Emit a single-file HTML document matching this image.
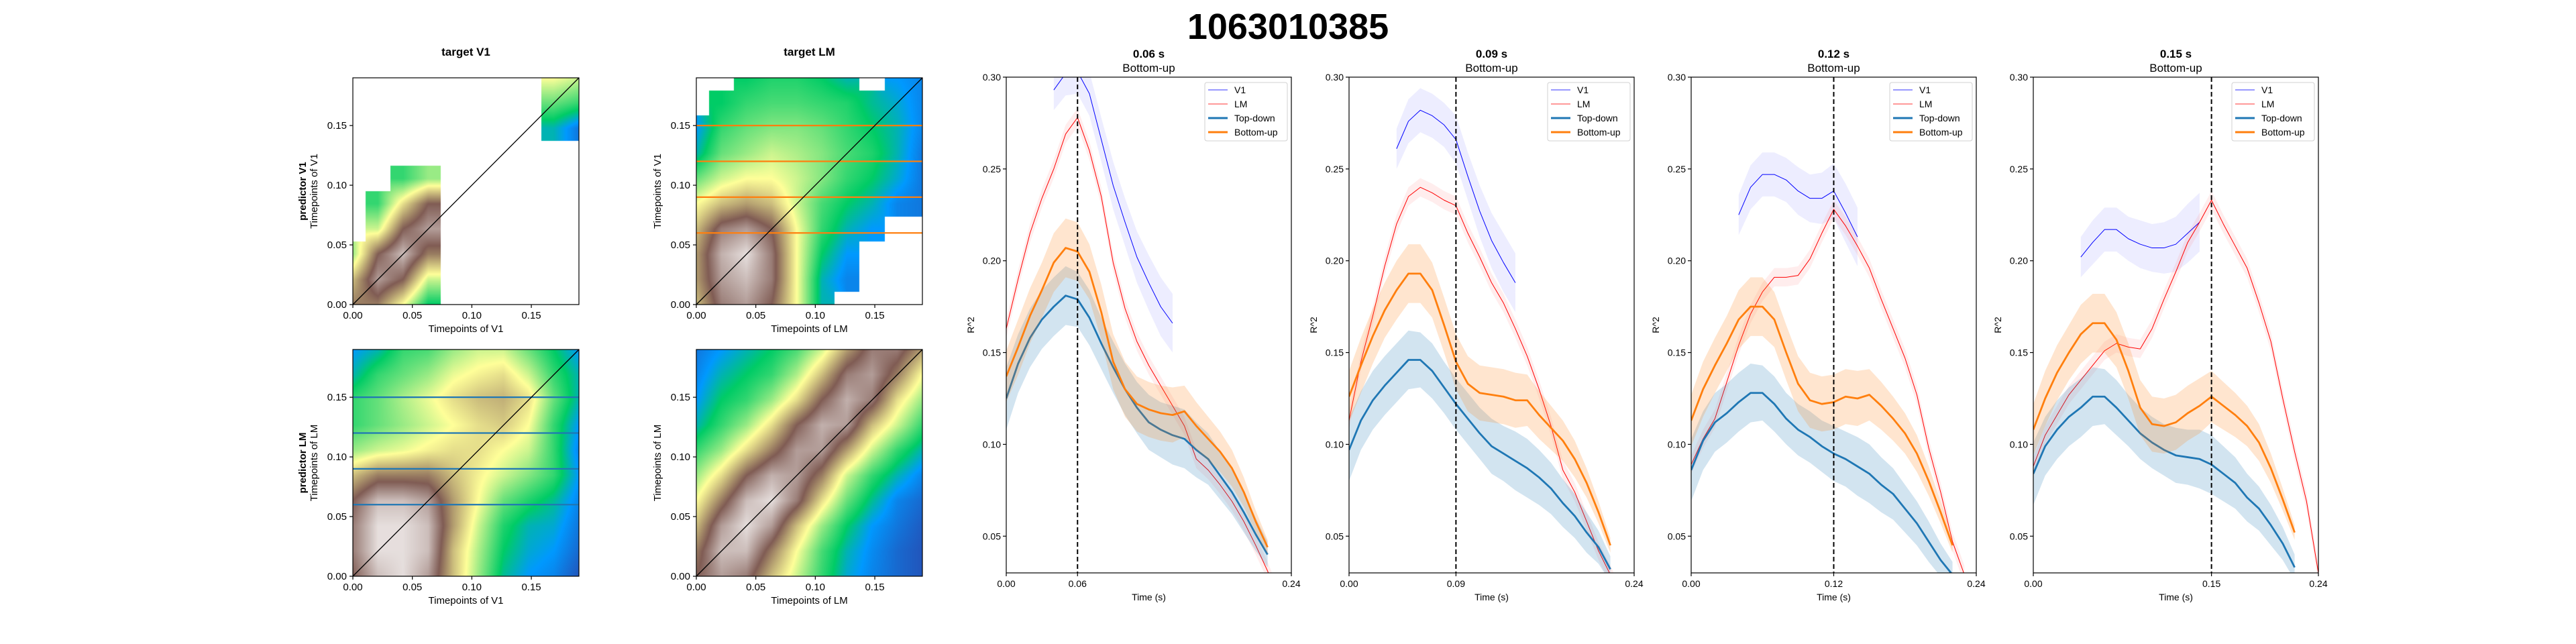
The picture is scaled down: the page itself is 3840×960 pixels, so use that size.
<!DOCTYPE html>
<html><head><meta charset="utf-8"><style>
html,body{margin:0;padding:0;background:#fff;}
#wrap{position:relative;width:3840px;height:960px;overflow:hidden;font-family:"Liberation Sans","DejaVu Sans",sans-serif;}
canvas{position:absolute;}
svg{position:absolute;left:0;top:0;}
</style></head><body>
<div id="wrap">
<canvas id="hm0"></canvas>
<canvas id="hm1"></canvas>
<canvas id="hm2"></canvas>
<canvas id="hm3"></canvas>
<svg id="svg" width="3840" height="960" xmlns="http://www.w3.org/2000/svg"></svg>
</div>
<script>
// ---------------- heatmap data (rows from y=0 upward, cols x=0..0.19; -1 = NaN) ----------------
const hmGridV1V1 = [
 [0.7,0.7,0.5,0.25,-1,-1,-1,-1,-1,-1],
 [0.6,0.85,0.75,0.45,-1,-1,-1,-1,-1,-1],
 [0.4,0.75,0.9,0.7,-1,-1,-1,-1,-1,-1],
 [-1,0.45,0.75,0.85,-1,-1,-1,-1,-1,-1],
 [-1,0.3,0.55,0.75,-1,-1,-1,-1,-1,-1],
 [-1,-1,0.3,0.4,-1,-1,-1,-1,-1,-1],
 [-1,-1,-1,-1,-1,-1,-1,-1,-1,-1],
 [-1,-1,-1,-1,-1,-1,-1,-1,0.2,0.1],
 [-1,-1,-1,-1,-1,-1,-1,-1,0.35,0.3],
 [-1,-1,-1,-1,-1,-1,-1,-1,0.5,0.45]];
const hmGridV1LM = [
 [0.6,0.8,0.85,0.75,0.5,0.2,-1,-1,-1,-1],
 [0.65,0.85,0.9,0.8,0.5,0.2,0.12,-1,-1,-1],
 [0.65,0.88,0.95,0.8,0.5,0.25,0.15,-1,-1,-1],
 [0.6,0.8,0.85,0.75,0.5,0.3,0.2,0.15,-1,-1],
 [0.5,0.6,0.65,0.6,0.45,0.32,0.25,0.2,0.12,0.1],
 [0.35,0.45,0.5,0.5,0.45,0.38,0.3,0.25,0.18,0.1],
 [0.2,0.35,0.4,0.45,0.42,0.38,0.32,0.28,0.2,0.1],
 [0.15,0.3,0.35,0.38,0.38,0.35,0.3,0.25,0.2,0.12],
 [-1,0.25,0.3,0.32,0.32,0.3,0.28,0.22,0.18,0.12],
 [-1,-1,0.25,0.28,0.28,0.25,0.2,-1,0.15,0.12]];
const hmGridLMV1 = [
 [0.75,0.9,0.95,0.85,0.6,0.4,0.22,0.15,0.12,0.05],
 [0.8,0.95,0.95,0.9,0.6,0.42,0.25,0.18,0.15,0.08],
 [0.8,0.95,0.95,0.9,0.65,0.45,0.28,0.2,0.18,0.1],
 [0.75,0.9,0.9,0.85,0.65,0.5,0.35,0.28,0.22,0.12],
 [0.6,0.7,0.7,0.7,0.6,0.52,0.45,0.38,0.3,0.15],
 [0.4,0.45,0.48,0.52,0.55,0.55,0.5,0.45,0.3,0.12],
 [0.3,0.35,0.4,0.45,0.5,0.55,0.58,0.5,0.3,0.15],
 [0.3,0.35,0.42,0.48,0.55,0.6,0.62,0.55,0.35,0.2],
 [0.2,0.3,0.35,0.4,0.48,0.52,0.55,0.45,0.3,0.2],
 [0.15,0.2,0.3,0.32,0.4,0.45,0.45,0.35,0.25,0.15]];
const hmGridLMLM = [
 [0.75,0.85,0.8,0.6,0.45,0.3,0.18,0.12,0.08,0.05],
 [0.7,0.9,0.9,0.7,0.5,0.32,0.2,0.13,0.08,0.05],
 [0.6,0.85,0.95,0.85,0.6,0.4,0.25,0.15,0.1,0.06],
 [0.5,0.7,0.9,0.95,0.8,0.55,0.35,0.22,0.12,0.08],
 [0.4,0.55,0.75,0.88,0.85,0.7,0.45,0.3,0.2,0.12],
 [0.3,0.4,0.55,0.7,0.85,0.85,0.65,0.45,0.3,0.2],
 [0.2,0.3,0.4,0.55,0.75,0.88,0.85,0.6,0.45,0.3],
 [0.15,0.25,0.3,0.4,0.55,0.75,0.88,0.8,0.55,0.4],
 [0.12,0.2,0.25,0.3,0.42,0.6,0.8,0.85,0.7,0.5],
 [0.1,0.15,0.2,0.25,0.32,0.45,0.65,0.8,0.8,0.65]];
const hmTicks = [0.00,0.05,0.10,0.15];
const hmTickLabels = ["0.00","0.05","0.10","0.15"];
const hLines = [0.06,0.09,0.12,0.15];

// ---------------- line chart data ----------------
const eventTimes = [0.06,0.09,0.12,0.15];
const eventLabels = ["0.06","0.09","0.12","0.15"];
const yTicks = [0.05,0.10,0.15,0.20,0.25,0.30];
const yTickLabels = ["0.05","0.10","0.15","0.20","0.25","0.30"];
const tdP1 = [0.125,0.144,0.158,0.168,0.175,0.181,0.179,0.169,0.155,0.142,0.130,0.120,0.112,0.108,0.105,0.103,0.097,0.092,0.083,0.074,0.063,0.051,0.040];
const buP1 = [0.137,0.153,0.170,0.184,0.199,0.207,0.205,0.194,0.172,0.145,0.130,0.122,0.119,0.117,0.116,0.118,0.110,0.103,0.096,0.087,0.074,0.058,0.044];
const lmP1 = [0.163,0.190,0.215,0.234,0.250,0.269,0.278,0.260,0.235,0.199,0.174,0.156,0.143,0.132,0.121,0.110,0.092,0.086,0.078,0.069,0.058,0.045,0.031,0.015];
const v1P1 = [0.293,0.302,0.303,0.291,0.266,0.241,0.221,0.202,0.188,0.175,0.166];
const tdP2 = [0.097,0.113,0.124,0.132,0.139,0.146,0.146,0.140,0.131,0.122,0.114,0.106,0.099,0.095,0.091,0.087,0.082,0.076,0.068,0.061,0.052,0.044,0.032];
const buP2 = [0.126,0.143,0.159,0.173,0.184,0.193,0.193,0.184,0.165,0.145,0.133,0.128,0.127,0.126,0.124,0.124,0.116,0.109,0.102,0.092,0.079,0.063,0.045];
const lmP2 = [0.113,0.145,0.170,0.197,0.220,0.235,0.240,0.237,0.233,0.230,0.215,0.202,0.188,0.177,0.163,0.148,0.130,0.110,0.086,0.074,0.058,0.042,0.029,0.015];
const v1P2 = [0.261,0.276,0.282,0.279,0.274,0.266,0.246,0.227,0.211,0.199,0.188];
const tdP3 = [0.086,0.102,0.112,0.117,0.123,0.128,0.128,0.122,0.114,0.108,0.104,0.099,0.095,0.092,0.088,0.084,0.078,0.073,0.065,0.057,0.047,0.037,0.029];
const buP3 = [0.113,0.130,0.143,0.155,0.168,0.175,0.175,0.168,0.150,0.133,0.124,0.122,0.123,0.126,0.125,0.127,0.121,0.114,0.106,0.095,0.080,0.063,0.045];
const lmP3 = [0.089,0.103,0.114,0.134,0.154,0.171,0.183,0.191,0.191,0.192,0.201,0.215,0.228,0.219,0.208,0.196,0.179,0.163,0.147,0.127,0.098,0.074,0.047,0.029];
const v1P3 = [0.225,0.240,0.247,0.247,0.244,0.238,0.234,0.234,0.238,0.226,0.213];
const tdP4 = [0.084,0.099,0.108,0.115,0.120,0.126,0.126,0.120,0.113,0.106,0.101,0.097,0.094,0.093,0.092,0.089,0.084,0.079,0.071,0.065,0.056,0.046,0.033];
const buP4 = [0.108,0.125,0.139,0.150,0.160,0.166,0.166,0.157,0.140,0.120,0.111,0.110,0.112,0.117,0.121,0.126,0.121,0.116,0.110,0.101,0.087,0.070,0.052];
const lmP4 = [0.088,0.105,0.116,0.127,0.135,0.143,0.151,0.155,0.153,0.152,0.163,0.179,0.194,0.210,0.221,0.233,0.220,0.208,0.196,0.177,0.156,0.125,0.096,0.069,0.030];
const v1P4 = [0.202,0.210,0.217,0.217,0.212,0.209,0.207,0.207,0.209,0.215,0.221];
const tdErr = [0.017,0.016,0.016,0.016,0.016,0.016,0.015,0.015,0.014,0.014,0.014,0.014,0.015,0.015,0.016,0.016,0.015,0.014,0.013,0.012,0.011,0.009,0.007];
const buErr = [0.014,0.015,0.015,0.015,0.016,0.016,0.016,0.015,0.015,0.015,0.015,0.015,0.015,0.015,0.015,0.014,0.013,0.012,0.011,0.010,0.008,0.006,0.004];
const lmErr = [0.005,0.005,0.005,0.005,0.005,0.005,0.005,0.005,0.005,0.005,0.005,0.005,0.005,0.005,0.005,0.005,0.005,0.005,0.005,0.005,0.005,0.005,0.005,0.005,0.005];
const v1Err = [0.011,0.012,0.012,0.012,0.012,0.013,0.013,0.014,0.015,0.016,0.016];
const v1Start = 0.04;
const dt = 0.01;

const NS = "http://www.w3.org/2000/svg";
const svg = document.getElementById('svg');
function mk(tag, attrs, parent){
  const e = document.createElementNS(NS, tag);
  for (const k in attrs) e.setAttribute(k, attrs[k]);
  (parent||svg).appendChild(e);
  return e;
}
function txt(s, attrs, parent){ const t = mk('text', attrs, parent); t.textContent = s; return t; }

// ---------------- heatmaps ----------------
const cmapStops = [[0,[51,51,153]],[0.15,[0,153,255]],[0.25,[0,204,102]],[0.5,[255,255,153]],[0.75,[128,92,84]],[1,[255,255,255]]];
function cmap(v){
  v = Math.max(0, Math.min(1, v));
  for (let i=1;i<cmapStops.length;i++){
    if (v <= cmapStops[i][0]){
      const a=cmapStops[i-1], b=cmapStops[i]; const t=(v-a[0])/(b[0]-a[0]);
      return [0,1,2].map(k=>Math.round(a[1][k]+(b[1][k]-a[1][k])*t));
    }
  }
  return [255,255,255];
}
const hmMax = 0.19;
const hmPanels = [
  {grid:hmGridV1V1, L:526, T:116, xl:"Timepoints of V1", yl:"Timepoints of V1", pred:"predictor V1", title:"target V1", lines:null},
  {grid:hmGridV1LM, L:1038, T:116, xl:"Timepoints of LM", yl:"Timepoints of V1", pred:null, title:"target LM", lines:"#ff7f0e"},
  {grid:hmGridLMV1, L:526, T:521, xl:"Timepoints of V1", yl:"Timepoints of LM", pred:"predictor LM", title:null, lines:"#1f77b4"},
  {grid:hmGridLMLM, L:1038, T:521, xl:"Timepoints of LM", yl:"Timepoints of LM", pred:null, title:null, lines:null}
];
const HW = 337, HH = 338;
hmPanels.forEach((p, idx) => {
  const c = document.getElementById('hm'+idx);
  c.width = HW; c.height = HH; c.style.left = p.L+'px'; c.style.top = p.T+'px';
  const ctx = c.getContext('2d'); const img = ctx.createImageData(HW, HH);
  const g = p.grid, n = g.length;
  for (let py=0; py<HH; py++){
    const gy = (1 - (py+0.5)/HH) * (n-1);
    for (let px=0; px<HW; px++){
      const gx = (px+0.5)/HW * (n-1);
      const ni = Math.round(gx), nj = Math.round(gy);
      let col;
      if (g[nj][ni] < 0) col = [255,255,255];
      else {
        const i0=Math.floor(gx), j0=Math.floor(gy), i1=Math.min(i0+1,n-1), j1=Math.min(j0+1,n-1);
        const fx=gx-i0, fy=gy-j0;
        let s=0, w=0;
        [[i0,j0,(1-fx)*(1-fy)],[i1,j0,fx*(1-fy)],[i0,j1,(1-fx)*fy],[i1,j1,fx*fy]].forEach(q=>{
          const v=g[q[1]][q[0]]; if (v>=0){ s+=v*q[2]; w+=q[2]; }
        });
        col = cmap(w>0 ? s/w : 0);
      }
      const o=(py*HW+px)*4; img.data[o]=col[0]; img.data[o+1]=col[1]; img.data[o+2]=col[2]; img.data[o+3]=255;
    }
  }
  ctx.putImageData(img,0,0);

  const sx = v => p.L + v/hmMax*HW;
  const sy = v => p.T + HH - v/hmMax*HH;
  const grp = mk('g', {});
  
  
  if (p.lines){
    hLines.forEach(h => {
      const l = mk('line', {x1:p.L, x2:p.L+HW, y1:sy(h), y2:sy(h), stroke:p.lines, 'stroke-width':2.2}, grp);
      
      
    });
  }
  const d = mk('line', {x1:sx(0), y1:sy(0), x2:sx(hmMax), y2:sy(hmMax), stroke:'#000', 'stroke-width':1.3}, grp);
  
  
  mk('rect', {x:p.L, y:p.T, width:HW, height:HH, fill:'none', stroke:'#000', 'stroke-width':1.2}, grp);
  hmTicks.forEach((t,i) => {
    mk('line', {x1:sx(t), x2:sx(t), y1:p.T+HH, y2:p.T+HH+5, stroke:'#000', 'stroke-width':1.2}, grp);
    const xt = txt(hmTickLabels[i], {x:sx(t), y:p.T+HH+21, 'font-size':15, 'text-anchor':'middle'}, grp);
    
    
    mk('line', {x1:p.L-5, x2:p.L, y1:sy(t), y2:sy(t), stroke:'#000', 'stroke-width':1.2}, grp);
    const yt = txt(hmTickLabels[i], {x:p.L-9, y:sy(t)+5, 'font-size':15, 'text-anchor':'end'}, grp);
    
    
  });
  const xl = txt(p.xl, {x:p.L+HW/2, y:p.T+HH+41, 'font-size':15, 'text-anchor':'middle'}, grp);
  
  
  const cy = p.T+HH/2;
  const yl = txt(p.yl, {x:0, y:0, 'font-size':15, 'text-anchor':'middle', transform:`translate(${p.L-53},${cy}) rotate(-90)`}, grp);
  
  
  if (p.pred){
    const pr = txt(p.pred, {x:0, y:0, 'font-size':15, 'font-weight':'bold', 'text-anchor':'middle', transform:`translate(${p.L-70},${cy}) rotate(-90)`}, grp);
    
    
  }
  if (p.title){
    const tt = txt(p.title, {x:p.L+HW/2, y:83, 'font-size':17, 'font-weight':'bold', 'text-anchor':'middle'}, grp);
    
    
  }
});

// ---------------- line charts ----------------
const suptitle = txt('1063010385', {x:1920, y:58, 'font-size':54, 'font-weight':'bold', 'text-anchor':'middle'});



const panels = [
  {L:1500, td:tdP1, bu:buP1, lm:lmP1, v1:v1P1},
  {L:2011, td:tdP2, bu:buP2, lm:lmP2, v1:v1P2},
  {L:2521, td:tdP3, bu:buP3, lm:lmP3, v1:v1P3},
  {L:3031, td:tdP4, bu:buP4, lm:lmP4, v1:v1P4}
];
const PW = 425, PT = 115, PB = 854, XMAX = 0.24, YMIN = 0.03, YMAX = 0.30;
panels.forEach((p, pi) => {
  const sx = v => p.L + v/XMAX*PW;
  const sy = v => PT + (YMAX - v)/(YMAX-YMIN)*(PB-PT);
  const grp = mk('g', {});
  
  
  const cp = mk('clipPath', {id:'clip'+pi}, grp);
  mk('rect', {x:p.L, y:PT, width:PW, height:PB-PT}, cp);
  const plot = mk('g', {'clip-path':`url(#clip${pi})`}, grp);

  function band(vals, err, start, color, op, name){
    let up = vals.map((v,i)=>`${sx(start+i*dt)},${sy(v+err[i])}`);
    let dn = vals.map((v,i)=>`${sx(start+i*dt)},${sy(v-err[i])}`).reverse();
    const b = mk('polygon', {points: up.concat(dn).join(' '), fill:color, 'fill-opacity':op, stroke:'none'}, plot);
    
    
  }
  function line(vals, start, color, w, name){
    const l = mk('polyline', {points: vals.map((v,i)=>`${sx(start+i*dt)},${sy(v)}`).join(' '), fill:'none', stroke:color, 'stroke-width':w, 'stroke-linejoin':'round'}, plot);
    
    
  }
  band(p.v1, v1Err, v1Start, '#0000ff', 0.07, 'v1');
  line(p.v1, v1Start, '#0000ff', 1, 'v1');
  band(p.lm, lmErr, 0, '#ff0000', 0.07, 'lm');
  line(p.lm, 0, '#ff0000', 1, 'lm');
  band(p.td, tdErr, 0, '#1f77b4', 0.2, 'top-down');
  line(p.td, 0, '#1f77b4', 2.8, 'top-down');
  band(p.bu, buErr, 0, '#ff7f0e', 0.2, 'bottom-up');
  line(p.bu, 0, '#ff7f0e', 2.8, 'bottom-up');

  const ev = mk('line', {x1:sx(eventTimes[pi]), x2:sx(eventTimes[pi]), y1:PT, y2:PB, stroke:'#000', 'stroke-width':2, 'stroke-dasharray':'7,4'}, grp);
  
  
  mk('rect', {x:p.L, y:PT, width:PW, height:PB-PT, fill:'none', stroke:'#000', 'stroke-width':1.2}, grp);

  yTicks.forEach((t,i)=>{
    mk('line', {x1:p.L-5, x2:p.L, y1:sy(t), y2:sy(t), stroke:'#000', 'stroke-width':1.2}, grp);
    const yt = txt(yTickLabels[i], {x:p.L-8, y:sy(t)+5, 'font-size':14, 'text-anchor':'end'}, grp);
    
    
  });
  const xtv = [0, eventTimes[pi], XMAX];
  const xtl = ["0.00", eventLabels[pi], "0.24"];
  xtv.forEach((t,i)=>{
    mk('line', {x1:sx(t), x2:sx(t), y1:PB, y2:PB+5, stroke:'#000', 'stroke-width':1.2}, grp);
    const xt = txt(xtl[i], {x:sx(t), y:PB+21, 'font-size':14, 'text-anchor':'middle'}, grp);
    
    
  });
  const xa = txt('Time (s)', {x:p.L+PW/2, y:PB+41, 'font-size':14, 'text-anchor':'middle'}, grp);
  
  
  const ya = txt('R^2', {x:0, y:0, 'font-size':14, 'text-anchor':'middle', transform:`translate(${p.L-48},${(PT+PB)/2}) rotate(-90)`}, grp);
  
  
  const t1 = txt(eventLabels[pi]+' s', {x:p.L+PW/2, y:86, 'font-size':17, 'font-weight':'bold', 'text-anchor':'middle'}, grp);
  
  
  const t2 = txt('Bottom-up', {x:p.L+PW/2, y:107, 'font-size':17, 'text-anchor':'middle'}, grp);
  
  

  // legend
  const lg = mk('g', {}, grp);
  
  
  const lx = p.L+PW-129;
  mk('rect', {x:lx, y:123, width:123, height:87, rx:3, fill:'#fff', 'fill-opacity':0.8, stroke:'#d0d0d0', 'stroke-width':1}, lg);
  const entries = [['V1','#0000ff',1],['LM','#ff0000',1],['Top-down','#1f77b4',3],['Bottom-up','#ff7f0e',3]];
  entries.forEach((e,i)=>{
    const ey = 134 + i*21;
    const eg = mk('g', {}, lg);
    
    
    mk('line', {x1:lx+5, x2:lx+34, y1:ey, y2:ey, stroke:e[1], 'stroke-width':e[2], 'stroke-opacity': e[2]===1?0.8:1}, eg);
    txt(e[0], {x:lx+44, y:ey+5, 'font-size':14}, eg);
  });
});
</script>
</body></html>
